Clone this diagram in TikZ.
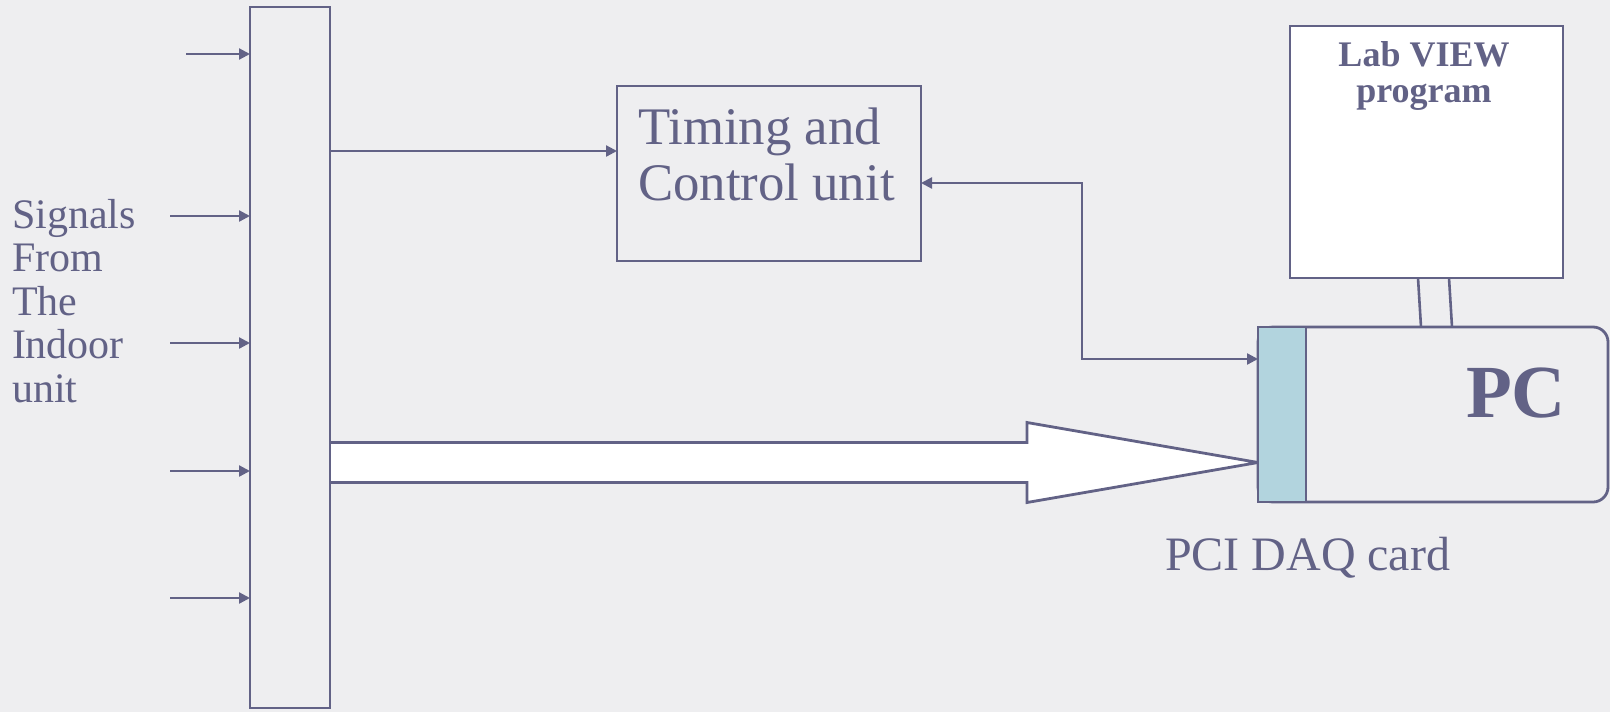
\documentclass[tikz,border=0pt]{standalone}
\usepackage{fontspec}
\setmainfont{Liberation Serif}
\usetikzlibrary{arrows.meta,calc,backgrounds}
\definecolor{ink}{RGB}{98,98,134}
\definecolor{cardblue}{RGB}{178,212,222}
\definecolor{bg}{RGB}{238,238,240}
\begin{document}
\begin{tikzpicture}[x=0.5pt,y=-0.5pt,
  box/.style={draw=ink,line width=1.4pt,inner sep=0pt,outer sep=0pt},
  sig/.style={draw=ink,line width=1.15pt,-{Triangle[length=5.5pt,width=5.5pt]}},
  both/.style={draw=ink,line width=1.15pt,{Triangle[length=5.5pt,width=5.5pt]}-{Triangle[length=5.5pt,width=5.5pt]}},
  txt/.style={text=ink,inner sep=0pt,outer sep=0pt}]
\useasboundingbox (0,0) rectangle (1610,712);
% blocks
\node[box,minimum width=40pt,minimum height=350.5pt] (bar) at (290,357.5) {};
\node[box,minimum width=152pt,minimum height=87.5pt] (timing) at (769,173.5) {};
\node[box,fill=white,minimum width=136.5pt,minimum height=126pt] (labview) at (1426.5,152) {};
\node[box,rounded corners=7.5pt,minimum width=175pt,minimum height=87.5pt] (pc) at (1433,414.5) {};
\node[box,fill=cardblue,minimum width=24pt,minimum height=87.5pt] (card) at (1282,414.5) {};
% texts
\node[txt,anchor=north west,align=left,font=\fontsize{21}{21.75}\selectfont] (signals) at (12,199) {Signals\\From\\The\\Indoor\\unit};
\node[txt,anchor=north west,align=left,font=\fontsize{26.4}{28}\selectfont] (timingtext) at (638,108) {Timing and\\Control unit};
\node[txt,anchor=north,align=center,font=\bfseries\fontsize{18}{17.8}\selectfont] (labtext) at (1424,41.5) {Lab VIEW\\program};
\node[txt,anchor=base,font=\bfseries\fontsize{37.5}{40}\selectfont] (pctext) at (1516,417) {PC};
\node[txt,anchor=base west,font=\fontsize{24}{28}\selectfont] (cardtext) at (1165,570) {PCI DAQ card};
% input signals
\coordinate (in1) at (186,54);
\coordinate (in2) at (170,216);
\coordinate (in3) at (170,343);
\coordinate (in4) at (170,471);
\coordinate (in5) at (170,598);
\foreach \i in {1,...,5} \draw[sig] (in\i) -- (in\i -| bar.west);
% bar to timing
\draw[sig] (bar.east |- 0,151) -- (timing.west |- 0,151);
% timing <-> card
\coordinate (bend) at (1082,183);
\draw[both] (timing.east |- bend) -- (bend) |- (card.west |- 0,359);
% labview to pc
\draw[draw=ink,line width=1.3pt] ($(labview.south)+(-8.5,0)$) -- ($(pc.north)+(-12,0)$);
\draw[draw=ink,line width=1.3pt] ($(labview.south)+(22.5,0)$) -- ($(pc.north)+(19,0)$);
% big arrow and background
\begin{scope}[on background layer]
\fill[bg] (0,0) rectangle (1610,712);
\draw[draw=ink,fill=white,line width=1.4pt,line join=miter]
  (bar.east |- 0,442.5) -- (1027,442.5) -- (1027,422.5) -- (card.west |- 0,462.5)
  -- (1027,502.5) -- (1027,482.5) -- (bar.east |- 0,482.5);
\end{scope}
\end{tikzpicture}
\end{document}
